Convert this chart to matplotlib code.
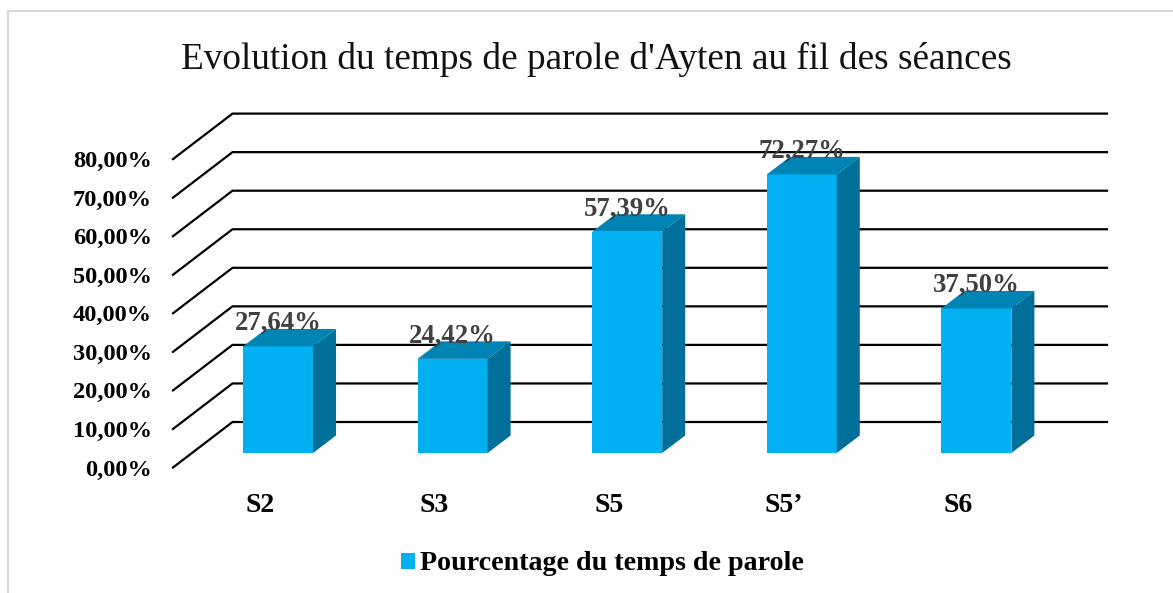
import matplotlib
matplotlib.use("Agg")
import matplotlib.pyplot as plt
from matplotlib.lines import Line2D

plt.rcParams['font.family'] = ['Liberation Serif', 'DejaVu Serif']

seances = ["S2", "S3", "S5", "S5’", "S6"]
pourcentages = [27.64, 24.42, 57.39, 72.27, 37.50]
graduations = [0, 10, 20, 30, 40, 50, 60, 70, 80]

titre = "Evolution du temps de parole d'Ayten au fil des séances"
legende = "Pourcentage du temps de parole"

# echelle de l'image : pixels par categorie et par point de pourcentage
W, H = 1173, 593
X0, Y0 = 278.0, 453.0
PX_CAT, PX_VAL = 174.6, 3.855


def dx(px):
    return px / PX_CAT


def dy(px):
    return px / PX_VAL


fig = plt.figure(figsize=(W / 100, H / 100), dpi=100)
ax = fig.add_axes([0, 0, 1, 1])
ax.set_xlim(-X0 / PX_CAT, (W - X0) / PX_CAT)
ax.set_ylim((Y0 - H) / PX_VAL, Y0 / PX_VAL)
ax.axis("off")

# cadre gris (haut et gauche seulement)
fig.add_artist(Line2D([8.2 / W, 8.2 / W, 1], [0, 1 - 11.2 / H, 1 - 11.2 / H],
                      color="#D9D9D9", lw=1.5))

# quadrillage : fond + cote oblique
for g in graduations:
    y_fond = g + dy(Y0 - 422)
    y_face = g - dy(467.5 - Y0)
    ax.plot([dx(173 - X0), dx(232.5 - X0), dx(1107 - X0)], [y_face, y_fond, y_fond],
            color="black", lw=1.6, zorder=1, solid_joinstyle="miter")
    ax.text(dx(152 - X0), y_face + dy(-2.5), "%d,00%%" % g, ha="right", va="center",
            fontsize=17.6, fontweight="bold", color="black", zorder=5)

# barres 3D
larg = dx(70)
prof_x, prof_y = dx(23), dy(17.5)
barres = ax.bar(range(len(seances)), pourcentages, width=larg, color="#00B0F0",
                zorder=3, label=legende)
for i, v in enumerate(pourcentages):
    g, d = i - larg / 2, i + larg / 2
    ax.fill([g, d, d + prof_x, g + prof_x], [v, v, v + prof_y, v + prof_y],
            color="#0084B4", lw=0, zorder=3)
    ax.fill([d, d + prof_x, d + prof_x, d], [0, prof_y, v + prof_y, v],
            color="#00709A", lw=0, zorder=3)
    etiquette = ("%.2f%%" % v).replace(".", ",")
    ax.text(i, v + dy(23), etiquette, ha="center", va="center",
            fontsize=19.3, fontweight="bold", color="#404040", zorder=4)
    ax.text(i - dx(18), -dy(52), seances[i], ha="center", va="center",
            fontsize=20, fontweight="bold", color="black", zorder=5)

ax.text(dx(596.5 - X0), dy(Y0 - 59), titre, ha="center", va="center",
        fontsize=26.8, color="#111111")

ax.legend(handles=[barres], loc="center", bbox_to_anchor=(602.5 / W, 1 - 564 / H),
          frameon=False, handlelength=0.5, handleheight=0.5, handletextpad=0.2,
          borderpad=0, borderaxespad=0,
          prop={"size": 20.2, "weight": "bold"}, labelcolor="black")

fig.savefig("out.png", dpi=100)
